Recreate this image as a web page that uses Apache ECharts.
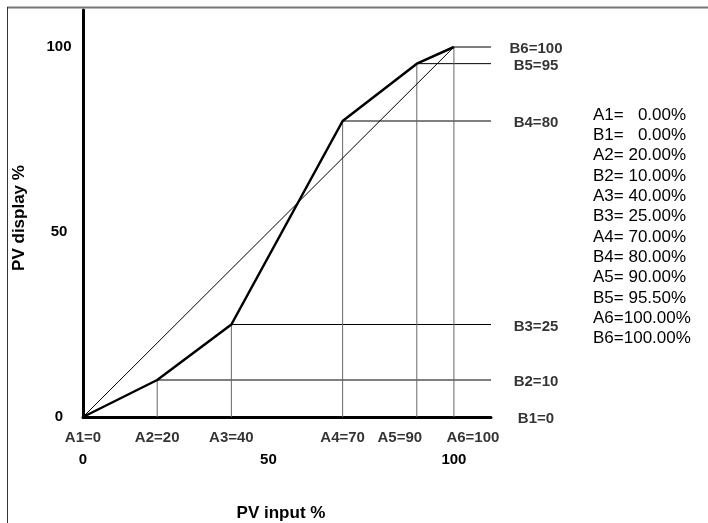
<!DOCTYPE html>
<html>
<head>
<meta charset="utf-8">
<script src="https://cdn.jsdelivr.net/npm/echarts@6/dist/echarts.min.js"></script>
<style>
  html, body { margin: 0; padding: 0; background: #fff; }
  #chart { width: 708px; height: 523px; }
</style>
</head>
<body>
<div id="chart"></div>
<script>
// PV input / display points
const aNames = ['A1', 'A2', 'A3', 'A4', 'A5', 'A6'];
const bNames = ['B1', 'B2', 'B3', 'B4', 'B5', 'B6'];
const aValues = [0, 20, 40, 70, 90, 100];
const bValues = [0, 10, 25, 80, 95.5, 100];
const tickValues = [0, 50, 100];

const axisEnd = 110;
const font = 'Liberation Sans, Arial, sans-serif';
// small sideways nudges so A5 / A6 labels don't collide
const aLabelNudge = [0, 0, 0, 0, -17, 19];

const chart = echarts.init(document.getElementById('chart'));

const pad = (s) => {
  const n = s.length < 7 ? (7 - s.length) * 2 - 1 : 0;
  return ' '.repeat(n) + s;
};
const legendLines = [];
aValues.forEach((a, i) => {
  legendLines.push(aNames[i] + '=' + pad(a.toFixed(2) + '%'));
  legendLines.push(bNames[i] + '=' + pad(bValues[i].toFixed(2) + '%'));
});

const series = [];

// guide lines from each breakpoint down to the x axis and right to the axis end
for (let i = 1; i < aValues.length; i++) {
  series.push({
    type: 'line',
    data: [[aValues[i], 0], [aValues[i], bValues[i]]],
    symbol: 'none',
    lineStyle: { color: '#666', width: 1 },
    silent: true,
  });
  series.push({
    type: 'line',
    data: [[aValues[i], bValues[i]], [axisEnd, bValues[i]]],
    symbol: 'none',
    lineStyle: { color: '#000', width: 1 },
    silent: true,
  });
}

// straight reference line
series.push({
  type: 'line',
  data: [[aValues[0], bValues[0]], [aValues[aValues.length - 1], bValues[bValues.length - 1]]],
  symbol: 'none',
  lineStyle: { color: '#000', width: 1 },
  silent: true,
});

// the scaling curve
series.push({
  type: 'line',
  data: aValues.map((a, i) => [a, bValues[i]]),
  symbol: 'none',
  lineStyle: { color: '#000', width: 2.5 },
  silent: true,
  z: 5,
});

// A labels under the x axis
series.push({
  type: 'scatter',
  data: aValues.map((a, i) => ({
    value: [a, 0],
    label: { offset: [aLabelNudge[i], 0] },
  })),
  symbolSize: 0,
  clip: false,
  silent: true,
  label: {
    show: true,
    position: 'bottom',
    distance: 13,
    formatter: (p) => aNames[p.dataIndex] + '=' + aValues[p.dataIndex],
    color: '#000',
    fontFamily: font,
    fontWeight: 'bold',
    fontSize: 15,
  },
});

// B labels right of the axis end
series.push({
  type: 'scatter',
  data: bValues.map((b) => [axisEnd, b]),
  symbolSize: 0,
  clip: false,
  silent: true,
  label: {
    show: true,
    position: 'inside',
    align: 'center',
    offset: [45, 2],
    formatter: (p) => bNames[p.dataIndex] + '=' + Math.floor(bValues[p.dataIndex]),
    color: '#000',
    fontFamily: font,
    fontWeight: 'bold',
    fontSize: 15,
  },
});

const tickFormatter = (v) => (tickValues.indexOf(v) >= 0 ? String(v) : '');

chart.setOption({
  animation: false,
  backgroundColor: '#fff',
  grid: { left: 83, right: 217, top: 10, bottom: 106 },
  xAxis: {
    type: 'value',
    min: 0,
    max: axisEnd,
    interval: 50,
    axisLine: { lineStyle: { color: '#000', width: 3 } },
    axisTick: { show: false },
    splitLine: { show: false },
    axisLabel: {
      formatter: tickFormatter,
      margin: 35,
      color: '#000',
      fontFamily: font,
      fontWeight: 'bold',
      fontSize: 15,
    },
  },
  yAxis: {
    type: 'value',
    min: 0,
    max: axisEnd,
    interval: 50,
    axisLine: { show: true, lineStyle: { color: '#000', width: 3 } },
    axisTick: { show: false },
    splitLine: { show: false },
    axisLabel: {
      formatter: tickFormatter,
      align: 'center',
      margin: 24,
      color: '#000',
      fontFamily: font,
      fontWeight: 'bold',
      fontSize: 15,
    },
  },
  graphic: [
    // partial frame (top and left edges only)
    { type: 'line', shape: { x1: 7, y1: 7.5, x2: 708, y2: 7.5 }, style: { stroke: '#777', lineWidth: 2 } },
    { type: 'line', shape: { x1: 7.5, y1: 7, x2: 7.5, y2: 523 }, style: { stroke: '#333', lineWidth: 1 } },
    {
      type: 'text',
      x: 281, y: 513,
      style: {
        text: 'PV input %',
        align: 'center', verticalAlign: 'middle',
        font: 'bold 17px ' + font, fill: '#000',
      },
    },
    {
      type: 'text',
      x: 19, y: 218,
      rotation: Math.PI / 2,
      style: {
        text: 'PV display %',
        align: 'center', verticalAlign: 'middle',
        font: 'bold 17px ' + font, fill: '#000',
      },
    },
    {
      type: 'text',
      x: 593, y: 105,
      style: {
        text: legendLines.join('\n'),
        align: 'left', verticalAlign: 'top',
        font: '17px ' + font, lineHeight: 20.3, fill: '#000',
      },
    },
  ],
  series: series,
});
</script>
</body>
</html>
